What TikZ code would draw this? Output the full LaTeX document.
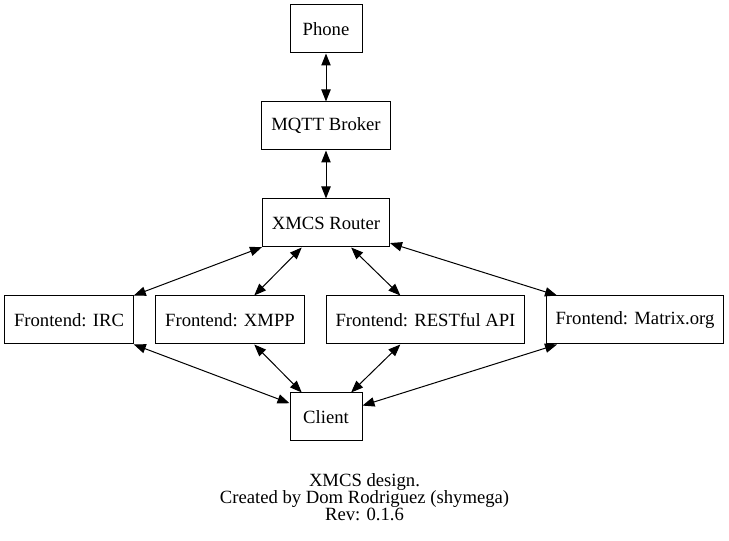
\documentclass[tikz,border=0pt]{standalone}
\usepackage{fontspec}
\setmainfont{Liberation Serif}
\usetikzlibrary{positioning,arrows.meta}

\begin{document}
\begin{tikzpicture}[x=0.75pt,y=-0.75pt,on grid,node distance=72.75pt,
   font=\fontsize{14pt}{12.75pt}\selectfont,
   box/.style={draw,line width=0.75pt,minimum height=36pt,minimum width=54pt,inner xsep=7pt},
   link/.style={<->,>={Triangle[length=9pt,width=7pt]},line width=0.75pt}] 
   \useasboundingbox (0,0) rectangle (729,541);
   \node[box] (router) at (326,223) {XMCS Router}; 
   \node[box] (mqtt)   [above=of router] {MQTT Broker}; 
   \node[box] (phone)  [above=of mqtt] {Phone}; 
   \node[box] (irc)    [below=of router, xshift=-192.75pt] {Frontend: IRC}; 
   \node[box] (xmpp)   [below=of router, xshift=-72pt] {Frontend: XMPP}; 
   \node[box] (rest)   [below=of router, xshift=74.6pt] {Frontend: RESTful API}; 
   \node[box] (matrix) [below=of router, xshift=231.75pt] {Frontend: Matrix.org}; 
   \node[box] (client) [below=of router, yshift=-72.75pt] {Client}; 
   \node[align=center] (caption) at (364.5,497) {XMCS design.\\Created by Dom Rodriguez (shymega)\\Rev: 0.1.6}; 
   \path[link] 
        (phone) edge (mqtt)
        (mqtt) edge (router)
        (router) edge (irc)
        (router) edge (xmpp)
        (router) edge (rest)
        (router) edge (matrix)
        (irc) edge (client)
        (xmpp) edge (client)
        (rest) edge (client)
        (matrix) edge (client)
        ;
\end{tikzpicture}
\end{document}
